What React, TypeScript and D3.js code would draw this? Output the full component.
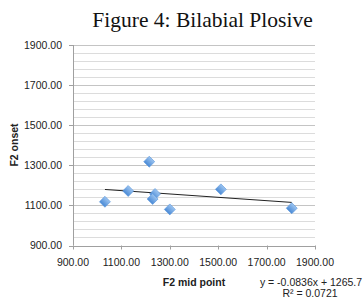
import { useEffect, useRef } from "react";
import * as d3 from "d3";

/**
 * Figure 4: Bilabial Plosive — F2 onset vs F2 mid point scatter with linear trendline.
 */

const W = 364;
const H = 303;

// data
const midPoint = [1032, 1128, 1215, 1239, 1229, 1300, 1511, 1804];
const onset = [1118, 1172, 1318, 1157, 1132, 1080, 1180, 1086];
const xTicks = [900, 1100, 1300, 1500, 1700, 1900];
const yTicks = [900, 1100, 1300, 1500, 1700, 1900];
const slope = -0.0836;
const intercept = 1265.7;
const rSquared = "0.0721";

const FONT = "'Liberation Sans', Arial, sans-serif";

export default function App() {
  const svgRef = useRef<SVGSVGElement>(null);

  useEffect(() => {
    if (!svgRef.current) return;
    const svg = d3.select(svgRef.current);
    svg.selectAll("*").remove();

    const x = d3.scaleLinear().domain([900, 1900]).range([73, 315]);
    const y = d3.scaleLinear().domain([900, 1900]).range([245.5, 45]);

    const defs = svg.append("defs");
    const grad = defs
      .append("linearGradient")
      .attr("id", "dia-grad")
      .attr("x1", "0%").attr("y1", "0%")
      .attr("x2", "0%").attr("y2", "100%");
    grad.append("stop").attr("offset", "0%").attr("stop-color", "#9cc4f0");
    grad.append("stop").attr("offset", "100%").attr("stop-color", "#4a8ad6");

    // title
    svg.append("text")
      .attr("x", 202.5).attr("y", 27)
      .attr("text-anchor", "middle")
      .attr("font-family", "'Liberation Serif', 'Times New Roman', serif")
      .attr("font-size", 21.5)
      .attr("fill", "#111")
      .text("Figure 4: Bilabial Plosive");

    // gridlines every 40
    const grid = d3.range(940, 1900, 40);
    svg.append("g")
      .selectAll("line.minor")
      .data(grid.filter((v) => (v - 900) % 200 !== 0))
      .join("line")
      .attr("x1", x(900)).attr("x2", x(1900))
      .attr("y1", (d) => Math.round(y(d)) + 0.5)
      .attr("y2", (d) => Math.round(y(d)) + 0.5)
      .attr("stroke", "#dcdcdc").attr("stroke-width", 1);
    svg.append("g")
      .selectAll("line.major")
      .data(yTicks.slice(1))
      .join("line")
      .attr("x1", x(900)).attr("x2", x(1900))
      .attr("y1", (d) => Math.round(y(d)) + 0.5)
      .attr("y2", (d) => Math.round(y(d)) + 0.5)
      .attr("stroke", "#c4c4c4").attr("stroke-width", 1);

    // axes
    const axisColor = "#a0a0a0";
    svg.append("line")
      .attr("x1", Math.round(x(900)) + 0.5).attr("x2", Math.round(x(900)) + 0.5)
      .attr("y1", y(1900)).attr("y2", y(900))
      .attr("stroke", axisColor);
    svg.append("line")
      .attr("x1", x(900)).attr("x2", x(1900))
      .attr("y1", Math.round(y(900)) + 0.5).attr("y2", Math.round(y(900)) + 0.5)
      .attr("stroke", axisColor);

    svg.append("g")
      .selectAll("line")
      .data(yTicks)
      .join("line")
      .attr("x1", x(900) - 4).attr("x2", x(900))
      .attr("y1", (d) => Math.round(y(d)) + 0.5)
      .attr("y2", (d) => Math.round(y(d)) + 0.5)
      .attr("stroke", axisColor);
    svg.append("g")
      .selectAll("line")
      .data(xTicks)
      .join("line")
      .attr("x1", (d) => Math.round(x(d)) + 0.5)
      .attr("x2", (d) => Math.round(x(d)) + 0.5)
      .attr("y1", y(900)).attr("y2", y(900) + 4)
      .attr("stroke", axisColor);

    // tick labels
    svg.append("g")
      .selectAll("text")
      .data(yTicks)
      .join("text")
      .attr("x", 62)
      .attr("y", (d) => y(d) + 3.8)
      .attr("text-anchor", "end")
      .attr("font-family", FONT)
      .attr("font-size", 10.5)
      .attr("fill", "#222")
      .text((d) => d.toFixed(2));
    svg.append("g")
      .selectAll("text")
      .data(xTicks)
      .join("text")
      .attr("x", (d) => x(d))
      .attr("y", 266)
      .attr("text-anchor", "middle")
      .attr("font-family", FONT)
      .attr("font-size", 10.5)
      .attr("fill", "#222")
      .text((d) => d.toFixed(2));

    // axis titles
    svg.append("text")
      .attr("x", 194).attr("y", 285.5)
      .attr("text-anchor", "middle")
      .attr("font-family", FONT)
      .attr("font-weight", "bold")
      .attr("font-size", 10.5)
      .attr("fill", "#222")
      .text("F2 mid point");
    svg.append("text")
      .attr("transform", "translate(17.5,145) rotate(-90)")
      .attr("text-anchor", "middle")
      .attr("font-family", FONT)
      .attr("font-weight", "bold")
      .attr("font-size", 10.5)
      .attr("fill", "#222")
      .text("F2 onset");

    // trendline
    const [xMin, xMax] = d3.extent(midPoint) as [number, number];
    const trend = d3.line<number>()
      .x((d) => x(d))
      .y((d) => y(slope * d + intercept));
    svg.append("path")
      .datum([xMin, xMax])
      .attr("d", trend)
      .attr("fill", "none")
      .attr("stroke", "#222")
      .attr("stroke-width", 1);

    // markers
    const diamond = d3.symbol().type(d3.symbolSquare).size(60);
    svg.append("g")
      .selectAll("path")
      .data(midPoint.map((m, i) => [m, onset[i]]))
      .join("path")
      .attr("d", diamond)
      .attr("transform", (d) => `translate(${x(d[0])},${y(d[1])}) rotate(45)`)
      .attr("fill", "url(#dia-grad)")
      .attr("stroke", "#5b97dc")
      .attr("stroke-width", 0.6);

    // equation
    svg.append("text")
      .attr("x", 311).attr("y", 285.5)
      .attr("text-anchor", "middle")
      .attr("font-family", FONT)
      .attr("font-size", 10.5)
      .attr("fill", "#222")
      .text(`y = ${slope}x + ${intercept}`);
    svg.append("text")
      .attr("x", 310).attr("y", 297)
      .attr("text-anchor", "middle")
      .attr("font-family", FONT)
      .attr("font-size", 10.5)
      .attr("fill", "#222")
      .text(`R² = ${rSquared}`);
  }, []);

  return (
    <svg
      ref={svgRef}
      width={W}
      height={H}
      style={{ position: "absolute", left: 0, top: 0, background: "#fff" }}
    />
  );
}
